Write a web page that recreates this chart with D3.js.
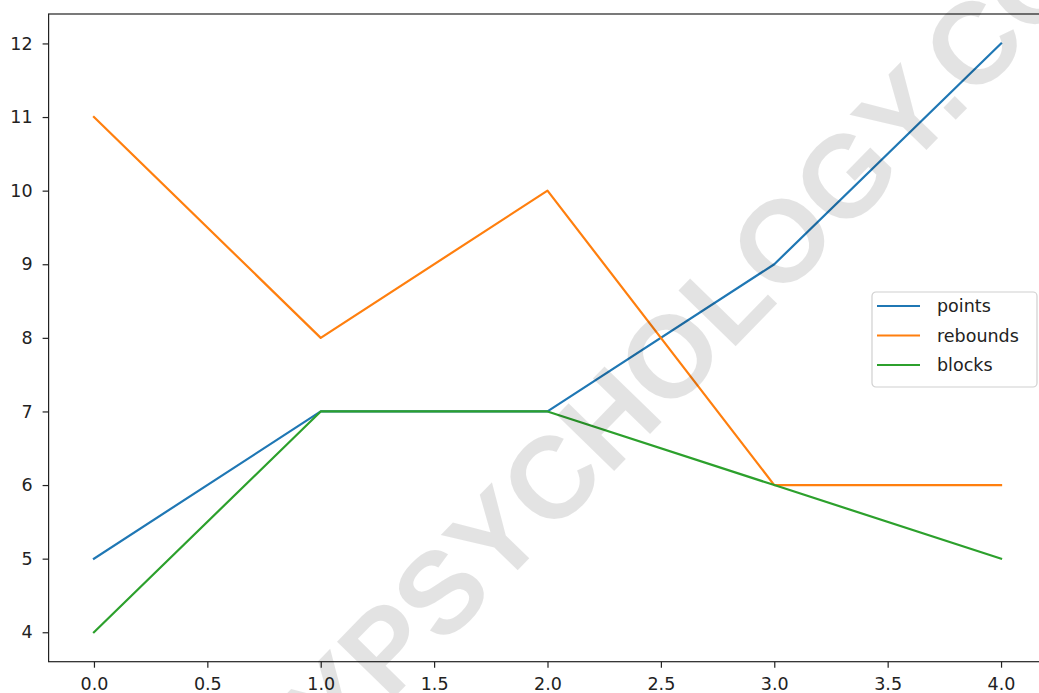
<!DOCTYPE html>
<html><head><meta charset="utf-8">
<script src="https://cdn.jsdelivr.net/npm/d3@7"></script>
<style>html,body{margin:0;padding:0;background:#fff;overflow:hidden}</style>
</head><body>
<svg id="chart" width="1039" height="693"></svg>
<script>
const xValues = [0, 1, 2, 3, 4];
const points = [5, 7, 7, 9, 12];
const rebounds = [11, 8, 10, 6, 6];
const blocks = [4, 7, 7, 6, 5];
const seriesNames = ["points", "rebounds", "blocks"];
const seriesColors = ["#1f77b4", "#ff7f0e", "#2ca02c"];
const xTicks = [0, 0.5, 1, 1.5, 2, 2.5, 3, 3.5, 4];
const yTicks = [4, 5, 6, 7, 8, 9, 10, 11, 12];
const watermark = "SIMPLYPSYCHOLOGY.COM";

const svg = d3.select("#chart");
const pLeft = 48.6, pTop = 14, pRight = 1046.4, pBottom = 661.7;
const x = d3.scaleLinear().domain([-0.2, 4.2]).range([pLeft, pRight]);
const y = d3.scaleLinear().domain([3.6, 12.4]).range([pBottom, pTop]);
const font = "DejaVu Sans, sans-serif";
const fs = "17.5px";

const series = [points, rebounds, blocks];
const line = d3.line().x((d, i) => x(xValues[i])).y(d => y(d));
series.forEach((s, k) => {
  svg.append("path").datum(s).attr("d", line)
    .attr("fill", "none").attr("stroke", seriesColors[k])
    .attr("stroke-width", 2.2).attr("stroke-linejoin", "round").attr("stroke-linecap", "square");
});

// axes
const xAxis = svg.append("g").attr("transform", `translate(0,${pBottom})`)
  .call(d3.axisBottom(x).tickValues(xTicks).tickFormat(d3.format(".1f")).tickSize(6).tickPadding(9.5));
const yAxis = svg.append("g").attr("transform", `translate(${pLeft},0)`)
  .call(d3.axisLeft(y).tickValues(yTicks).tickFormat(d3.format("d")).tickSize(6).tickPadding(10));
[xAxis, yAxis].forEach(g => {
  g.select(".domain").remove();
  g.selectAll(".tick line").attr("stroke", "#222").attr("stroke-width", 1.2);
  g.selectAll(".tick text").attr("fill", "#222").style("font-family", font).style("font-size", fs);
});
// spines
svg.append("rect").attr("x", pLeft).attr("y", pTop).attr("width", pRight - pLeft).attr("height", pBottom - pTop)
  .attr("fill", "none").attr("stroke", "#222").attr("stroke-width", 1.2);

// legend
const lg = svg.append("g").attr("transform", "translate(872,292)");
lg.append("rect").attr("width", 165).attr("height", 95).attr("rx", 4)
  .attr("fill", "#fff").attr("fill-opacity", 0.8).attr("stroke", "#d0d0d0").attr("stroke-width", 1.2);
seriesNames.forEach((n, k) => {
  const yy = 14 + k * 29.5;
  lg.append("line").attr("x1", 5).attr("x2", 48).attr("y1", yy).attr("y2", yy)
    .attr("stroke", seriesColors[k]).attr("stroke-width", 2.2);
  lg.append("text").attr("x", 65).attr("y", yy).attr("dy", "0.35em")
    .style("font-family", font).style("font-size", fs).attr("fill", "#222").text(n);
});

// watermark
svg.append("text").attr("transform", "translate(95,1005) rotate(-45.8)")
  .style("font-family", "Liberation Sans, Arial, sans-serif").style("font-weight", "bold")
  .style("font-size", "116px").attr("fill", "#000").attr("fill-opacity", 0.11)
  .text(watermark);
</script>
</body></html>
